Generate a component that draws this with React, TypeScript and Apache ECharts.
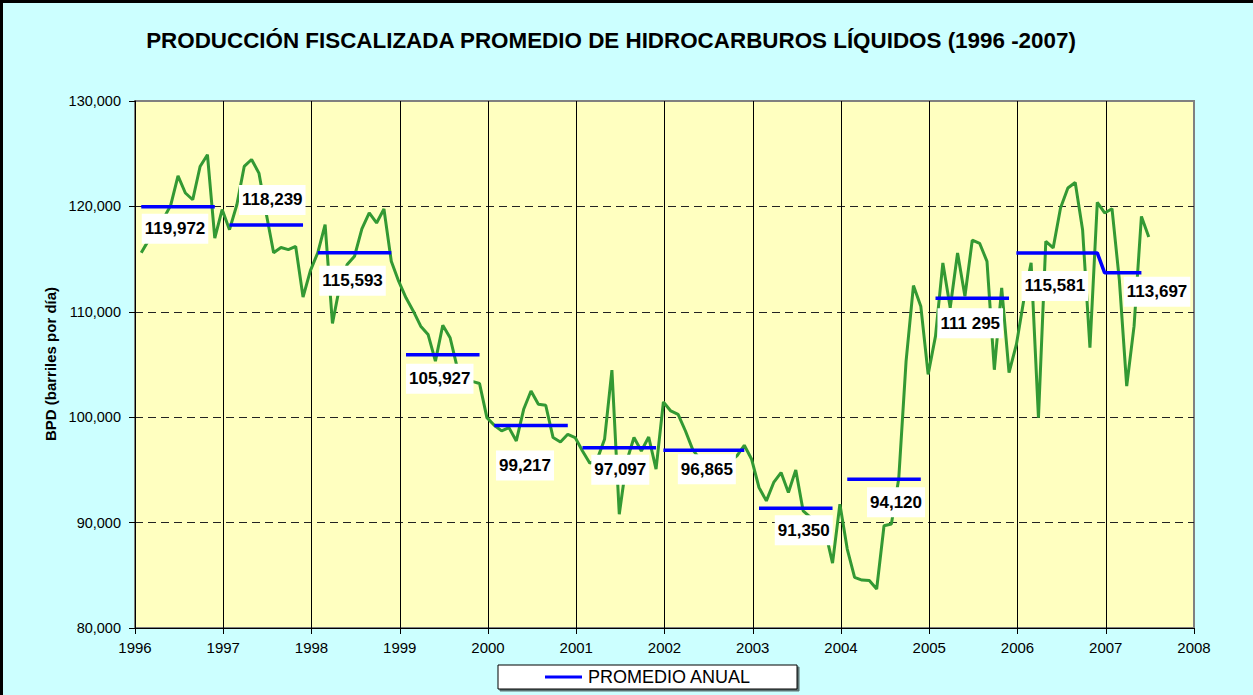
import React, { useEffect, useRef } from "react";
import * as echarts from "echarts";

const FONT = "Liberation Sans, Arial, Helvetica, sans-serif";

// Monthly fiscalized production (BPD), Jan..Dec of each year
const prod1996 = [115600, 116800, 117800, 118800, 120100, 122900, 121270, 120630, 123790, 124900, 117000, 119700];
const prod1997 = [117790, 120160, 123790, 124450, 123160, 119300, 115600, 116100, 115900, 116200, 111400, 113900];
const prod1998 = [115600, 118270, 108890, 112500, 114480, 115270, 117860, 119380, 118430, 119750, 114790, 112900];
const prod1999 = [111330, 110060, 108640, 107850, 105320, 108730, 107540, 104600, 103900, 103400, 103200, 99960];
const prod2000 = [99230, 98700, 99010, 97750, 100750, 102480, 101220, 101130, 98070, 97650, 98380, 98070];
const prod2001 = [96800, 95630, 96000, 97900, 104470, 90800, 95800, 98070, 96800, 98120, 95070, 101440];
const prod2002 = [100590, 100270, 98690, 96900, 96000, 95500, 95200, 95600, 95800, 96330, 97340, 96010];
const prod2003 = [93330, 92060, 93810, 94750, 92860, 95000, 91120, 90500, 89800, 89200, 86160, 91750];
const prod2004 = [87490, 84810, 84550, 84500, 83700, 89700, 89860, 94150, 105320, 112490, 110530, 104060];
const prod2005 = [107690, 114640, 110380, 115590, 111480, 116800, 116500, 114790, 104500, 112270, 104220, 106900];
const prod2006 = [111100, 114640, 99960, 116690, 116060, 119850, 121740, 122270, 117790, 106590, 120380, 119380];
const prod2007 = [119780, 113000, 102950, 108640, 119050, 117100];

const monthlyProduction = [
  ...prod1996, ...prod1997, ...prod1998, ...prod1999, ...prod2000, ...prod2001,
  ...prod2002, ...prod2003, ...prod2004, ...prod2005, ...prod2006, ...prod2007,
];

// Annual averages ("PROMEDIO ANUAL")
const annualAvg = [119972, 118239, 115593, 105927, 99217, 97097, 96865, 91350, 94120, 111295, 115581, 113697];
const annualLabel = ["119,972", "118,239", "115,593", "105,927", "99,217", "97,097", "96,865", "91,350", "94,120", "111 295", "115,581", "113,697"];
const avgStartMonth = [0, 12, 24, 36, 48, 60, 71, 84, 96, 108, 119, 131];
const avgEndMonth = [10, 22, 34, 46, 58, 70, 82, 94, 106, 118, 130, 136];
const avgJoinNext = [false, false, false, false, false, false, false, false, false, false, true, false];

const firstYear = 1996;
const lastYear = 2008;

// label offsets (px) relative to the middle of each average segment
const labelOffsets = [
  [-3, 22], [6, -25], [-2, 28], [-3, 24], [-6, 40], [1, 22],
  [3, 19], [8, 22], [12, 23], [-2, 25], [-2, 33], [34, 19],
];

const MONTH_SHIFT = 0.85;

export default function App() {
  const ref = useRef<HTMLDivElement>(null);

  useEffect(() => {
    const chart = echarts.init(ref.current!, null, { renderer: "svg" });

    const greenData = monthlyProduction.map((v, i) => [i + MONTH_SHIFT, v]);

    const blueData: any[] = [];
    annualAvg.forEach((v, i) => {
      for (let m = avgStartMonth[i]; m <= avgEndMonth[i]; m++) {
        blueData.push([m + MONTH_SHIFT, v]);
      }
      if (!avgJoinNext[i] && i < annualAvg.length - 1) {
        blueData.push([avgEndMonth[i] + MONTH_SHIFT + 0.5, "-"]);
      }
    });

    const labelData = annualAvg.map((v, i) => ({
      value: [(avgStartMonth[i] + avgEndMonth[i]) / 2 + MONTH_SHIFT, v],
      label: {
        formatter: annualLabel[i],
        offset: labelOffsets[i],
      },
    }));

    const option: any = {
      animation: false,
      backgroundColor: "#CCFFFF",
      textStyle: { fontFamily: FONT },
      grid: {
        left: 135,
        right: 59,
        top: 101,
        bottom: 67,
        show: true,
        backgroundColor: "#FFFFC0",
        borderColor: "#808080",
        borderWidth: 2,
      },
      legend: {
        data: ["PROMEDIO ANUAL"],
        left: 498,
        top: 665,
        icon: "rect",
        itemWidth: 37,
        itemHeight: 3,
        itemGap: 5,
        padding: [3, 46, 3, 47],
        backgroundColor: "#FFFFFF",
        borderColor: "#000000",
        borderWidth: 1,
        borderRadius: 0,
        shadowColor: "rgba(0,0,0,0.55)",
        shadowOffsetX: 2,
        shadowOffsetY: 2,
        shadowBlur: 0,
        selectedMode: false,
        textStyle: { fontSize: 18, color: "#000", fontFamily: FONT, padding: [0, 0, 0, 1] },
      },
      xAxis: {
        type: "value",
        min: 0,
        max: (lastYear - firstYear) * 12,
        interval: 12,
        axisLine: { show: true, onZero: false, lineStyle: { color: "#000", width: 1 } },
        axisTick: { show: true, length: 6, lineStyle: { color: "#000", width: 1 } },
        axisLabel: {
          formatter: (v: number) => String(firstYear + Math.round(v / 12)),
          fontSize: 15,
          color: "#000",
          margin: 12,
          fontFamily: FONT,
        },
        splitLine: {
          show: true,
          showMaxLine: false,
          lineStyle: { color: "#000", width: 1, type: "solid" },
        },
      },
      yAxis: {
        type: "value",
        min: 80000,
        max: 130000,
        interval: 10000,
        axisLine: { show: true, onZero: false, lineStyle: { color: "#000", width: 1 } },
        axisTick: { show: true, length: 6, lineStyle: { color: "#000", width: 1 } },
        axisLabel: {
          formatter: (v: number) => v.toLocaleString("en-US"),
          fontSize: 14.5,
          color: "#000",
          margin: 14,
          fontFamily: FONT,
        },
        splitLine: {
          show: true,
          showMinLine: false,
          showMaxLine: false,
          lineStyle: { color: "#222", width: 1, type: [8, 5] },
        },
      },
      series: [
        {
          name: "Producción",
          type: "line",
          data: greenData,
          symbol: "none",
          lineStyle: { color: "#339933", width: 3 },
          itemStyle: { color: "#339933" },
          z: 2,
          silent: true,
        },
        {
          name: "PROMEDIO ANUAL",
          type: "line",
          data: blueData,
          symbol: "none",
          connectNulls: false,
          lineStyle: { color: "#0000FF", width: 3.5 },
          itemStyle: { color: "#0000FF" },
          z: 3,
          silent: true,
        },
        {
          name: "etiquetas",
          type: "scatter",
          data: labelData,
          symbolSize: 0,
          z: 10,
          silent: true,
          itemStyle: { opacity: 1, color: "#FFFFFF" },
          label: {
            show: true,
            position: "inside",
            fontSize: 17,
            fontWeight: "bold",
            color: "#000",
            opacity: 1,
            fontFamily: FONT,
            backgroundColor: "#FFFFFF",
            padding: [7, 3, 6, 3],
          },
        },
      ],
      graphic: [
        {
          type: "text",
          x: 611,
          y: 40,
          style: {
            text: "PRODUCCIÓN FISCALIZADA PROMEDIO DE HIDROCARBUROS LÍQUIDOS (1996 -2007)",
            font: `bold 22.4px ${FONT}`,
            fill: "#000",
            align: "center",
            verticalAlign: "middle",
          },
        },
        {
          type: "text",
          x: 50,
          y: 364,
          rotation: Math.PI / 2,
          style: {
            text: "BPD (barriles por día)",
            font: `bold 15px ${FONT}`,
            fill: "#000",
            align: "center",
            verticalAlign: "middle",
          },
        },
        {
          type: "rect",
          shape: { x: 1.5, y: 1.5, width: 1270, height: 710 },
          style: { fill: "none", stroke: "#000", lineWidth: 3 },
          silent: true,
        },
      ],
    };

    chart.setOption(option);
    return () => chart.dispose();
  }, []);

  return (
    <div
      ref={ref}
      style={{ position: "absolute", left: 0, top: 0, width: 1253, height: 695 }}
    />
  );
}
